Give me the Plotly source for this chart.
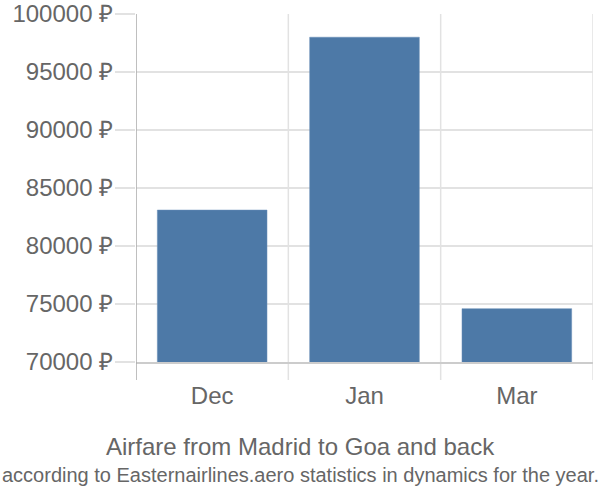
import plotly.graph_objects as go

categories = ["Dec", "Jan", "Mar"]
prices = [83100, 98000, 74600]
y_ticks = [70000, 75000, 80000, 85000, 90000, 95000, 100000]
y_tick_labels = [f"{v} ₽" for v in y_ticks]
title = "Airfare from Madrid to Goa and back"
subtitle = "according to Easternairlines.aero statistics in dynamics for the year."

FONT = "Liberation Sans, Arial, sans-serif"
GRID = "#e2e2e2"
TXT = "#666666"

fig = go.Figure(go.Bar(
    x=categories, y=prices,
    marker=dict(color="#4d79a7", line=dict(color="#6a8fb8", width=0.5)),
    width=0.72,
))

shapes = []
for xv in [0.5, 1.5, 2.5]:
    shapes.append(dict(type="line", xref="x", yref="paper", x0=xv, x1=xv,
                       y0=-18/348, y1=1, line=dict(color=GRID, width=1.5), layer="below"))
shapes.append(dict(type="line", xref="x", yref="paper", x0=-0.5, x1=-0.5,
                   y0=-18/348, y1=1, line=dict(color="#aaaaaa", width=1.5), layer="above"))

fig.update_layout(
    width=600, height=500,
    margin=dict(l=136, r=7, t=14, b=138, autoexpand=False),
    paper_bgcolor="white", plot_bgcolor="white",
    showlegend=False,
    font=dict(family=FONT, color=TXT, size=20),
    shapes=shapes,
    xaxis=dict(range=[-0.5, 2.5], showgrid=False, showline=True, linecolor="#cccccc",
               linewidth=1.5, ticks="outside", ticklen=11, tickcolor="rgba(0,0,0,0)",
               automargin=False, tickfont=dict(size=24, color=TXT)),
    yaxis=dict(range=[70000, 100000], tickvals=y_ticks, ticktext=y_tick_labels,
               showgrid=True, gridcolor=GRID, gridwidth=1.5, zeroline=False,
               ticks="outside", ticklen=20, tickcolor=GRID, tickwidth=1.5,
               ticklabelstandoff=-3, automargin=False,
               tickfont=dict(size=24, color=TXT)),
    annotations=[
        dict(text=title, xref="paper", yref="paper", x=(300 - 136) / 457, y=0,
             xanchor="center", yanchor="middle", yshift=-84, showarrow=False,
             font=dict(size=24, color=TXT, family=FONT)),
        dict(text=subtitle, xref="paper", yref="paper", x=(300 - 136) / 457, y=0,
             xanchor="center", yanchor="middle", yshift=-113, showarrow=False,
             font=dict(size=20, color=TXT, family="Liberation Sans Narrow, " + FONT)),
    ],
)

fig.write_html("out.html")
